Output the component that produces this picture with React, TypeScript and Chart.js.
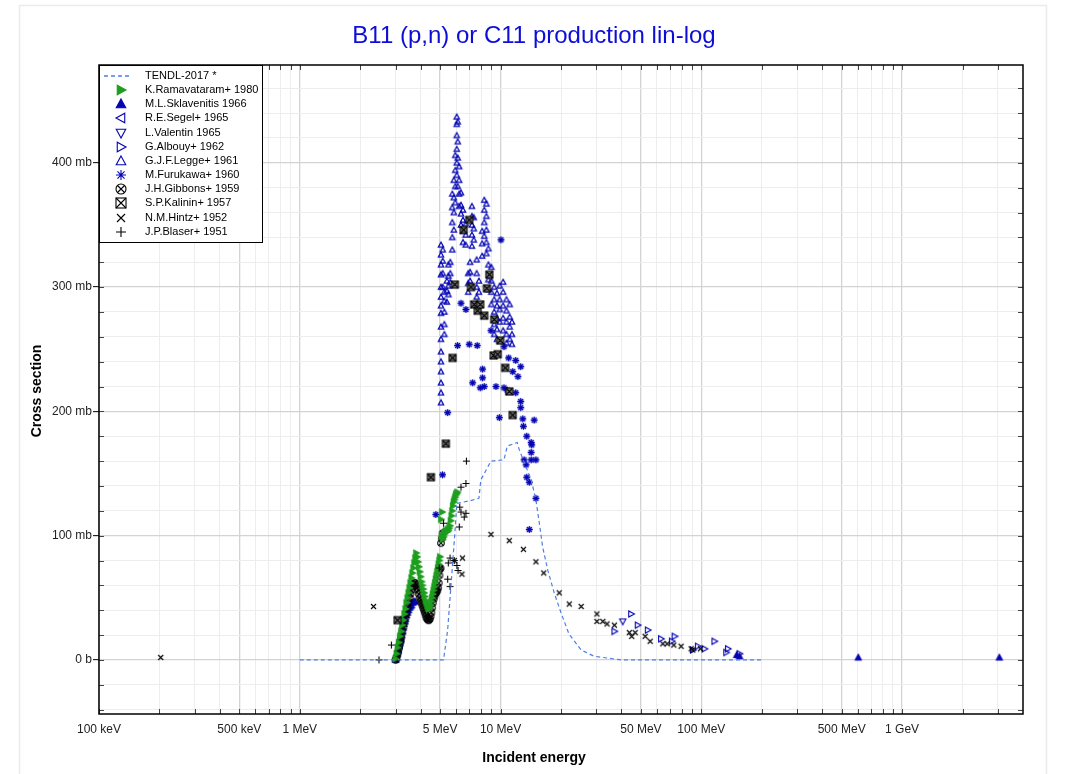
import React, { useEffect, useRef } from 'react';
import { Chart, registerables } from 'chart.js';

Chart.register(...registerables);

const FONT = '"Liberation Sans", Arial, Helvetica, sans-serif';
const BLUE = '#0404b4';
const GREEN = '#1e9e1e';
const BLACK = '#000000';
const TENDL_COLOR = '#4d7fe3';

const TITLE = 'B11 (p,n) or C11 production lin-log';
const X_TITLE = 'Incident energy';
const Y_TITLE = 'Cross section';

const X_MIN = 0.1;
const X_MAX = 4000;
const Y_MIN = -43.5;
const Y_MAX = 478.7;

const X_TICKS = [0.1, 0.2, 0.3, 0.4, 0.5, 0.6, 0.7, 0.8, 0.9, 1, 2, 3, 4, 5, 6, 7, 8, 9, 10, 20, 30, 40, 50, 60, 70, 80, 90, 100, 200, 300, 400, 500, 600, 700, 800, 900, 1000, 2000, 3000];
const X_LABEL_VALUES = [0.1, 0.5, 1, 5, 10, 50, 100, 500, 1000];
const X_LABEL_TEXTS = ['100 keV', '500 keV', '1 MeV', '5 MeV', '10 MeV', '50 MeV', '100 MeV', '500 MeV', '1 GeV'];
const Y_TICKS = [-40, -20, 0, 20, 40, 60, 80, 100, 120, 140, 160, 180, 200, 220, 240, 260, 280, 300, 320, 340, 360, 380, 400, 420, 440, 460];
const Y_LABEL_VALUES = [0, 100, 200, 300, 400];
const Y_LABEL_TEXTS = ['0 b', '100 mb', '200 mb', '300 mb', '400 mb'];

// energy in MeV, cross section in mb
const TENDL: [number, number][] = [
  [1, 0], [5.2, 0], [5.45, 24], [5.66, 59], [5.92, 102], [6.06, 126], [7.0, 128], [7.8, 130], [7.98, 145],
  [8.96, 160], [10.4, 161], [10.8, 172], [12.1, 175], [12.4, 169], [14.2, 145], [15.0, 129], [15.6, 110],
  [16.2, 91], [17.2, 72], [18.5, 54], [20, 38], [21.9, 21], [25.2, 8], [29.2, 3], [39.8, 0], [200, 0],
];

const RAMAVATARAM: [number, number][] = [
  [3.0, 1], [3.04, 5], [3.08, 10], [3.12, 14], [3.16, 19], [3.2, 23], [3.24, 28], [3.28, 32], [3.32, 37],
  [3.36, 41], [3.4, 46], [3.44, 50], [3.48, 54], [3.52, 58], [3.56, 62], [3.6, 66], [3.64, 70], [3.68, 74],
  [3.72, 78], [3.76, 82], [3.8, 86], [3.84, 83], [3.88, 79], [3.92, 75], [3.96, 71], [4.0, 67], [4.04, 63],
  [4.08, 60], [4.12, 57], [4.16, 54], [4.2, 51], [4.24, 48], [4.28, 46], [4.32, 44], [4.36, 42], [4.4, 41],
  [4.44, 42], [4.48, 44], [4.52, 47], [4.56, 50], [4.6, 53], [4.64, 56], [4.68, 59], [4.72, 62], [4.76, 65],
  [4.8, 68], [4.84, 71], [4.88, 74], [4.92, 77], [4.96, 80], [5.0, 83], [5.06, 113], [5.12, 119], [5.1, 100],
  [5.15, 97], [5.2, 99], [5.25, 101], [5.3, 103], [5.35, 104], [5.4, 103], [5.45, 105], [5.5, 104], [5.55, 106],
  [5.6, 108], [5.65, 112], [5.7, 116], [5.75, 120], [5.8, 124], [5.85, 127], [5.9, 129], [5.95, 131],
  [6.0, 133], [6.05, 134], [6.1, 135],
];

const SKLAVENITIS: [number, number][] = [
  [3.0, 0], [3.03, 2], [3.06, 5], [3.09, 8], [3.12, 11], [3.15, 14], [3.18, 17], [3.21, 20], [3.24, 23],
  [3.27, 26], [3.3, 29], [3.33, 31], [3.36, 33], [3.4, 36], [3.44, 38], [3.48, 40], [3.52, 42], [3.56, 43],
  [3.6, 44], [3.65, 46], [3.7, 47], [3.75, 47], [150, 4], [155, 3], [605, 2], [3050, 2],
];

const SEGEL: [number, number][] = [[3.05, 3], [3.1, 7], [3.15, 12], [3.2, 16]];

const VALENTIN: [number, number][] = [[40.6, 31]];

const ALBOUY: [number, number][] = [
  [36.9, 23], [44.7, 37], [48.2, 28], [54.1, 24], [63.0, 17], [71.3, 15], [73.6, 19], [90.7, 8], [96.1, 11],
  [103.7, 9], [116.2, 15], [133, 6], [135.6, 9], [155, 5],
];

const LEGGE: [number, number][] = [
  [5.05, 334], [5.05, 326], [5.05, 318], [5.05, 310], [5.05, 300], [5.05, 292], [5.05, 285], [5.05, 279],
  [5.05, 268], [5.05, 258], [5.05, 248], [5.05, 240], [5.05, 232], [5.05, 223], [5.05, 215], [5.05, 207],
  [5.15, 330], [5.15, 321], [5.15, 311], [5.15, 300],
  [5.25, 296], [5.25, 289], [5.25, 280], [5.25, 270], [5.25, 262],
  [5.4, 305], [5.4, 297], [5.4, 288],
  [5.5, 318], [5.5, 309], [5.5, 301], [5.5, 294],
  [5.62, 320], [5.62, 311], [5.62, 304],
  [5.75, 375], [5.75, 364], [5.75, 352], [5.75, 340], [5.75, 330],
  [5.85, 386], [5.85, 372], [5.85, 360], [5.85, 346],
  [5.95, 406], [5.95, 394], [5.95, 381], [5.95, 368],
  [6.05, 437], [6.05, 431], [6.05, 422], [6.05, 411], [6.05, 400], [6.05, 390],
  [6.12, 433], [6.12, 417], [6.12, 404], [6.12, 381],
  [6.22, 397], [6.22, 386], [6.22, 375], [6.22, 365],
  [6.35, 376], [6.35, 366], [6.35, 359], [6.35, 350],
  [6.5, 362], [6.5, 354], [6.5, 345], [6.5, 336],
  [6.7, 351], [6.7, 342], [6.7, 334],
  [6.9, 311], [6.9, 303], [6.9, 296],
  [7.05, 320], [7.05, 312], [7.05, 305],
  [7.2, 365], [7.2, 357], [7.2, 350], [7.2, 342], [7.2, 333],
  [7.35, 356], [7.35, 347], [7.35, 338],
  [7.6, 322], [7.6, 311], [7.6, 300], [7.6, 292],
  [7.8, 305], [7.8, 296],
  [8.1, 345], [8.1, 335], [8.1, 325],
  [8.3, 370], [8.3, 362], [8.3, 352], [8.3, 341],
  [8.5, 367], [8.5, 357], [8.5, 346], [8.5, 336], [8.5, 327],
  [8.7, 331], [8.7, 318], [8.7, 306], [8.7, 298],
  [9.0, 316], [9.0, 305], [9.0, 296], [9.0, 286],
  [9.3, 300], [9.3, 290], [9.3, 280], [9.3, 270], [9.3, 262],
  [9.6, 295], [9.6, 285], [9.6, 275], [9.6, 266], [9.6, 258],
  [9.9, 301], [9.9, 290], [9.9, 282], [9.9, 272],
  [10.3, 304], [10.3, 296], [10.3, 285], [10.3, 275], [10.3, 265],
  [10.7, 290], [10.7, 281], [10.7, 272], [10.7, 262], [10.7, 255],
  [11.1, 286], [11.1, 276], [11.1, 268], [11.1, 258],
  [11.4, 272], [11.4, 262], [11.4, 254],
];

const FURUKAWA: [number, number][] = [
  [4.76, 117], [5.14, 149], [5.45, 199], [6.11, 253], [6.35, 287], [6.72, 282], [6.98, 254], [7.26, 223],
  [7.65, 253], [7.92, 219], [8.14, 234], [8.14, 227], [8.29, 220], [8.96, 265], [9.49, 220], [9.86, 195],
  [10.05, 338], [10.4, 219], [10.4, 252], [10.8, 217], [10.97, 243], [11.5, 232], [11.9, 215], [11.9, 241],
  [12.2, 228], [12.6, 236], [12.6, 203], [12.6, 208], [12.9, 194], [13.0, 188], [13.5, 180], [14.3, 173],
  [14.2, 175], [14.2, 167], [13.1, 161], [14.2, 161], [15.0, 161], [13.4, 157], [13.5, 147], [13.9, 143],
  [15.0, 130], [13.9, 105], [14.7, 193],
];

const GIBBONS: [number, number][] = [
  [3.0, 0], [3.02, 1], [3.05, 3], [3.08, 6], [3.11, 9], [3.14, 12], [3.17, 15], [3.2, 18], [3.24, 22],
  [3.28, 26], [3.32, 30], [3.36, 34], [3.4, 38], [3.44, 42], [3.48, 46], [3.52, 50], [3.56, 53], [3.6, 56],
  [3.64, 59], [3.68, 61], [3.72, 62], [3.76, 62], [3.8, 60], [3.84, 58], [3.88, 56], [3.92, 53], [3.96, 50],
  [4.0, 48], [4.04, 46], [4.08, 44], [4.12, 42], [4.16, 40], [4.2, 38], [4.24, 36], [4.28, 34], [4.32, 33],
  [4.36, 32], [4.4, 32], [4.44, 33], [4.48, 35], [4.52, 38], [4.56, 42], [4.6, 46], [4.64, 49], [4.68, 51],
  [4.72, 53], [4.76, 54], [4.8, 55], [4.84, 56], [4.88, 58], [4.92, 62], [4.96, 68], [5.0, 73], [5.02, 74],
  [5.05, 94], [5.1, 98], [5.15, 102],
];

const KALININ: [number, number][] = [
  [3.07, 32], [4.5, 147], [5.34, 174], [5.77, 243], [5.92, 302], [6.55, 346], [6.98, 354], [7.12, 300],
  [7.39, 286], [7.69, 281], [7.92, 286], [8.29, 277], [8.55, 299], [8.79, 310], [9.24, 245], [9.3, 274],
  [9.68, 246], [9.96, 257], [10.55, 235], [11.05, 216], [11.49, 197],
];

const HINTZ: [number, number][] = [
  [0.203, 2], [2.33, 43], [5.88, 80], [6.46, 82], [6.42, 69], [8.96, 101], [11.05, 96], [13.0, 89], [15.0, 79],
  [16.4, 70], [19.6, 54], [22.0, 45], [25.2, 43], [30.2, 37], [30.2, 31], [32.3, 31], [33.9, 29], [36.9, 28],
  [43.8, 22], [45.0, 19], [46.8, 22], [52.5, 19], [55.6, 15], [64.3, 13], [67.6, 13], [72.9, 12], [79.3, 11],
  [89.0, 9], [99.0, 9], [90.7, 8],
];

const BLASER: [number, number][] = [
  [2.48, 0], [2.86, 12], [4.95, 74], [5.2, 110], [5.45, 65], [5.49, 78], [5.6, 59], [5.6, 82], [5.88, 80],
  [6.06, 76], [6.14, 72], [6.23, 107], [6.26, 123], [6.35, 119], [6.35, 139], [6.59, 115], [6.72, 118],
  [6.72, 142], [6.76, 160],
];

type Kind = 'triUp' | 'triRight' | 'triLeft' | 'triDown' | 'star' | 'circX' | 'boxX' | 'x' | 'plus';

interface SeriesDef {
  label: string;
  data: [number, number][];
  kind: Kind;
  color: string;
  filled: boolean;
  size: number;
  lw: number;
  order: number;
}

const SERIES: SeriesDef[] = [
  { label: 'K.Ramavataram+ 1980', data: RAMAVATARAM, kind: 'triRight', color: GREEN, filled: true, size: 7, lw: 1, order: 4 },
  { label: 'M.L.Sklavenitis 1966', data: SKLAVENITIS, kind: 'triUp', color: BLUE, filled: true, size: 7, lw: 1, order: 6 },
  { label: 'R.E.Segel+ 1965', data: SEGEL, kind: 'triLeft', color: BLUE, filled: false, size: 6.5, lw: 1.1, order: 7 },
  { label: 'L.Valentin 1965', data: VALENTIN, kind: 'triDown', color: BLUE, filled: false, size: 6.5, lw: 1.1, order: 8 },
  { label: 'G.Albouy+ 1962', data: ALBOUY, kind: 'triRight', color: BLUE, filled: false, size: 6.5, lw: 1.1, order: 9 },
  { label: 'G.J.F.Legge+ 1961', data: LEGGE, kind: 'triUp', color: BLUE, filled: false, size: 5.5, lw: 1.3, order: 11 },
  { label: 'M.Furukawa+ 1960', data: FURUKAWA, kind: 'star', color: BLUE, filled: false, size: 7, lw: 1.3, order: 10 },
  { label: 'J.H.Gibbons+ 1959', data: GIBBONS, kind: 'circX', color: BLACK, filled: false, size: 6.5, lw: 1.1, order: 5 },
  { label: 'S.P.Kalinin+ 1957', data: KALININ, kind: 'boxX', color: BLACK, filled: true, size: 7, lw: 1.1, order: 3 },
  { label: 'N.M.Hintz+ 1952', data: HINTZ, kind: 'x', color: BLACK, filled: false, size: 5, lw: 1.1, order: 2 },
  { label: 'J.P.Blaser+ 1951', data: BLASER, kind: 'plus', color: BLACK, filled: false, size: 7, lw: 1.1, order: 1 },
];

function makeMarker(kind: Kind, color: string, size: number, filled: boolean, lw: number, legend: boolean): HTMLCanvasElement {
  const dim = Math.ceil(size + lw * 2 + 3);
  const c = document.createElement('canvas');
  c.width = dim;
  c.height = dim;
  const ctx = c.getContext('2d') as CanvasRenderingContext2D;
  ctx.translate(dim / 2, dim / 2);
  ctx.strokeStyle = color;
  ctx.fillStyle = color;
  ctx.lineWidth = lw;
  const r = size / 2;
  const tri = (rot: number) => {
    ctx.save();
    ctx.rotate(rot);
    ctx.beginPath();
    ctx.moveTo(0, -r);
    ctx.lineTo(r * 0.95, r * 0.75);
    ctx.lineTo(-r * 0.95, r * 0.75);
    ctx.closePath();
    if (filled) ctx.fill();
    ctx.stroke();
    ctx.restore();
  };
  switch (kind) {
    case 'triUp': tri(0); break;
    case 'triRight': tri(Math.PI / 2); break;
    case 'triLeft': tri(-Math.PI / 2); break;
    case 'triDown': tri(Math.PI); break;
    case 'star': {
      ctx.beginPath();
      for (let i = 0; i < 4; i++) {
        const a = (i * Math.PI) / 4;
        ctx.moveTo(-r * Math.cos(a), -r * Math.sin(a));
        ctx.lineTo(r * Math.cos(a), r * Math.sin(a));
      }
      ctx.stroke();
      break;
    }
    case 'circX': {
      ctx.beginPath();
      ctx.arc(0, 0, r, 0, Math.PI * 2);
      ctx.stroke();
      const k = r * 0.7;
      ctx.beginPath();
      ctx.moveTo(-k, -k); ctx.lineTo(k, k);
      ctx.moveTo(-k, k); ctx.lineTo(k, -k);
      ctx.stroke();
      break;
    }
    case 'boxX': {
      if (filled && !legend) {
        ctx.fillStyle = '#7a7a7a';
        ctx.fillRect(-r, -r, size, size);
      }
      ctx.strokeRect(-r, -r, size, size);
      ctx.beginPath();
      ctx.moveTo(-r, -r); ctx.lineTo(r, r);
      ctx.moveTo(-r, r); ctx.lineTo(r, -r);
      ctx.stroke();
      break;
    }
    case 'x': {
      ctx.beginPath();
      ctx.moveTo(-r, -r); ctx.lineTo(r, r);
      ctx.moveTo(-r, r); ctx.lineTo(r, -r);
      ctx.stroke();
      break;
    }
    case 'plus': {
      ctx.beginPath();
      ctx.moveTo(-r, 0); ctx.lineTo(r, 0);
      ctx.moveTo(0, -r); ctx.lineTo(0, r);
      ctx.stroke();
      break;
    }
  }
  return c;
}

function matchIndex(list: number[], v: number): number {
  for (let i = 0; i < list.length; i++) {
    if (Math.abs(v / (list[i] || 1) - 1) < 1e-6 || v === list[i]) return i;
  }
  return -1;
}

export default function App() {
  const canvasRef = useRef<HTMLCanvasElement | null>(null);

  useEffect(() => {
    document.body.style.margin = '0';
    document.body.style.overflow = 'hidden';
    const canvas = canvasRef.current;
    if (!canvas) return;

    const legendMarkers = SERIES.map((s) =>
      makeMarker(s.kind, s.color, s.kind === 'x' ? 8 : 10, s.filled, 1.1, true)
    );

    const datasets: any[] = [
      {
        label: 'TENDL-2017 *',
        data: TENDL.map(([x, y]) => ({ x, y })),
        showLine: true,
        borderColor: TENDL_COLOR,
        borderWidth: 1.2,
        borderDash: [4, 3],
        pointRadius: 0,
        fill: false,
        tension: 0,
        order: 0,
      },
      ...SERIES.map((s) => ({
        label: s.label,
        data: s.data.map(([x, y]) => ({ x, y })),
        showLine: false,
        pointStyle: makeMarker(s.kind, s.color, s.size, s.filled, s.lw, false),
        pointRadius: 3,
        borderColor: s.color,
        backgroundColor: s.color,
        order: s.order,
      })),
    ];

    const decor = {
      id: 'decor',
      beforeDraw(chart: any) {
        const ctx = chart.ctx as CanvasRenderingContext2D;
        ctx.save();
        ctx.strokeStyle = '#ebebeb';
        ctx.lineWidth = 1.5;
        ctx.strokeRect(19.5, 5.5, 1027, 800);
        ctx.restore();
      },
      afterDraw(chart: any) {
        const ctx = chart.ctx as CanvasRenderingContext2D;
        const a = chart.chartArea;
        const xs = chart.scales.x;
        const ys = chart.scales.y;
        ctx.save();
        // inner tick marks
        ctx.strokeStyle = '#444';
        ctx.lineWidth = 1;
        ctx.beginPath();
        X_TICKS.forEach((v) => {
          const px = Math.round(xs.getPixelForValue(v)) + 0.5;
          ctx.moveTo(px, a.bottom); ctx.lineTo(px, a.bottom - 5);
          ctx.moveTo(px, a.top); ctx.lineTo(px, a.top + 5);
        });
        Y_TICKS.forEach((v) => {
          const py = Math.round(ys.getPixelForValue(v)) + 0.5;
          ctx.moveTo(a.left, py); ctx.lineTo(a.left + 5, py);
          ctx.moveTo(a.right, py); ctx.lineTo(a.right - 5, py);
        });
        ctx.stroke();
        // frame
        ctx.strokeStyle = '#000';
        ctx.lineWidth = 1.5;
        ctx.strokeRect(a.left, a.top, a.right - a.left, a.bottom - a.top);

        // legend
        const lx = a.left;
        const ly = a.top;
        const lwid = 163;
        const lh = 177;
        ctx.fillStyle = '#fff';
        ctx.fillRect(lx, ly, lwid, lh);
        ctx.strokeStyle = '#000';
        ctx.lineWidth = 1;
        ctx.strokeRect(lx + 0.5, ly + 0.5, lwid, lh);
        ctx.font = '11px ' + FONT;
        ctx.textBaseline = 'middle';
        ctx.textAlign = 'left';
        const rowY = (i: number) => ly + 11 + i * 14.15;
        // TENDL row
        ctx.strokeStyle = TENDL_COLOR;
        ctx.lineWidth = 1.5;
        ctx.setLineDash([4, 3]);
        ctx.beginPath();
        ctx.moveTo(lx + 5, rowY(0));
        ctx.lineTo(lx + 32, rowY(0));
        ctx.stroke();
        ctx.setLineDash([]);
        ctx.fillStyle = '#000';
        ctx.fillText('TENDL-2017 *', lx + 46, rowY(0));
        SERIES.forEach((s, i) => {
          const m = legendMarkers[i];
          const y = rowY(i + 1);
          ctx.drawImage(m, Math.round(lx + 22 - m.width / 2), Math.round(y - m.height / 2));
          ctx.fillStyle = '#000';
          ctx.fillText(s.label, lx + 46, y);
        });

        // titles
        ctx.fillStyle = '#0d0dd8';
        ctx.font = '24px ' + FONT;
        ctx.textAlign = 'center';
        ctx.textBaseline = 'alphabetic';
        ctx.fillText(TITLE, 534, 43);

        ctx.fillStyle = '#000';
        ctx.font = 'bold 14px ' + FONT;
        ctx.textBaseline = 'middle';
        ctx.fillText(X_TITLE, 534, 758);

        ctx.translate(37, 391);
        ctx.rotate(-Math.PI / 2);
        ctx.fillText(Y_TITLE, 0, 0);
        ctx.restore();
      },
    };

    const xMajor = (v: number) => matchIndex(X_LABEL_VALUES, v) >= 0;
    const yMajor = (v: number) => Y_LABEL_VALUES.indexOf(v) >= 0;

    const chart = new Chart(canvas, {
      type: 'scatter',
      data: { datasets },
      options: {
        animation: false,
        responsive: false,
        events: [],
        layout: { padding: { left: 27, right: 48, top: 65, bottom: 0 } },
        plugins: {
          legend: { display: false },
          title: { display: false },
          tooltip: { enabled: false },
        },
        scales: {
          x: {
            type: 'logarithmic',
            position: 'bottom',
            min: X_MIN,
            max: X_MAX,
            afterBuildTicks: (s: any) => {
              s.ticks = X_TICKS.map((v) => ({ value: v }));
            },
            afterFit: (s: any) => {
              s.height = 60;
            },
            ticks: {
              autoSkip: false,
              maxRotation: 0,
              minRotation: 0,
              padding: 8,
              color: '#222',
              font: { family: FONT, size: 12 },
              callback: (v: any) => {
                const i = matchIndex(X_LABEL_VALUES, Number(v));
                return i >= 0 ? X_LABEL_TEXTS[i] : '';
              },
            },
            grid: {
              drawTicks: false,
              color: (c: any) => (c.tick && xMajor(c.tick.value) ? '#d3d3d3' : '#ededed'),
              lineWidth: (c: any) => (c.tick && xMajor(c.tick.value) ? 1.3 : 1),
            },
            border: { display: false },
          },
          y: {
            type: 'linear',
            position: 'left',
            min: Y_MIN,
            max: Y_MAX,
            afterBuildTicks: (s: any) => {
              s.ticks = Y_TICKS.map((v) => ({ value: v }));
            },
            afterFit: (s: any) => {
              s.width = 72;
            },
            ticks: {
              autoSkip: false,
              padding: 1,
              color: '#222',
              font: { family: FONT, size: 12 },
              callback: (v: any) => {
                const i = Y_LABEL_VALUES.indexOf(Number(v));
                return i >= 0 ? Y_LABEL_TEXTS[i] : '';
              },
            },
            grid: {
              drawTicks: true,
              tickLength: 6,
              tickWidth: 1,
              tickColor: (c: any) => (c.tick && yMajor(c.tick.value) ? '#000' : 'rgba(0,0,0,0)'),
              color: (c: any) => (c.tick && yMajor(c.tick.value) ? '#d3d3d3' : '#ededed'),
              lineWidth: (c: any) => (c.tick && yMajor(c.tick.value) ? 1.3 : 1),
            },
            border: { display: false },
          },
        },
      } as any,
      plugins: [decor],
    });

    return () => {
      chart.destroy();
    };
  }, []);

  return (
    <div style={{ width: 1071, height: 774, position: 'relative' }}>
      <canvas ref={canvasRef} width={1071} height={774} style={{ display: 'block', width: 1071, height: 774 }} />
    </div>
  );
}
